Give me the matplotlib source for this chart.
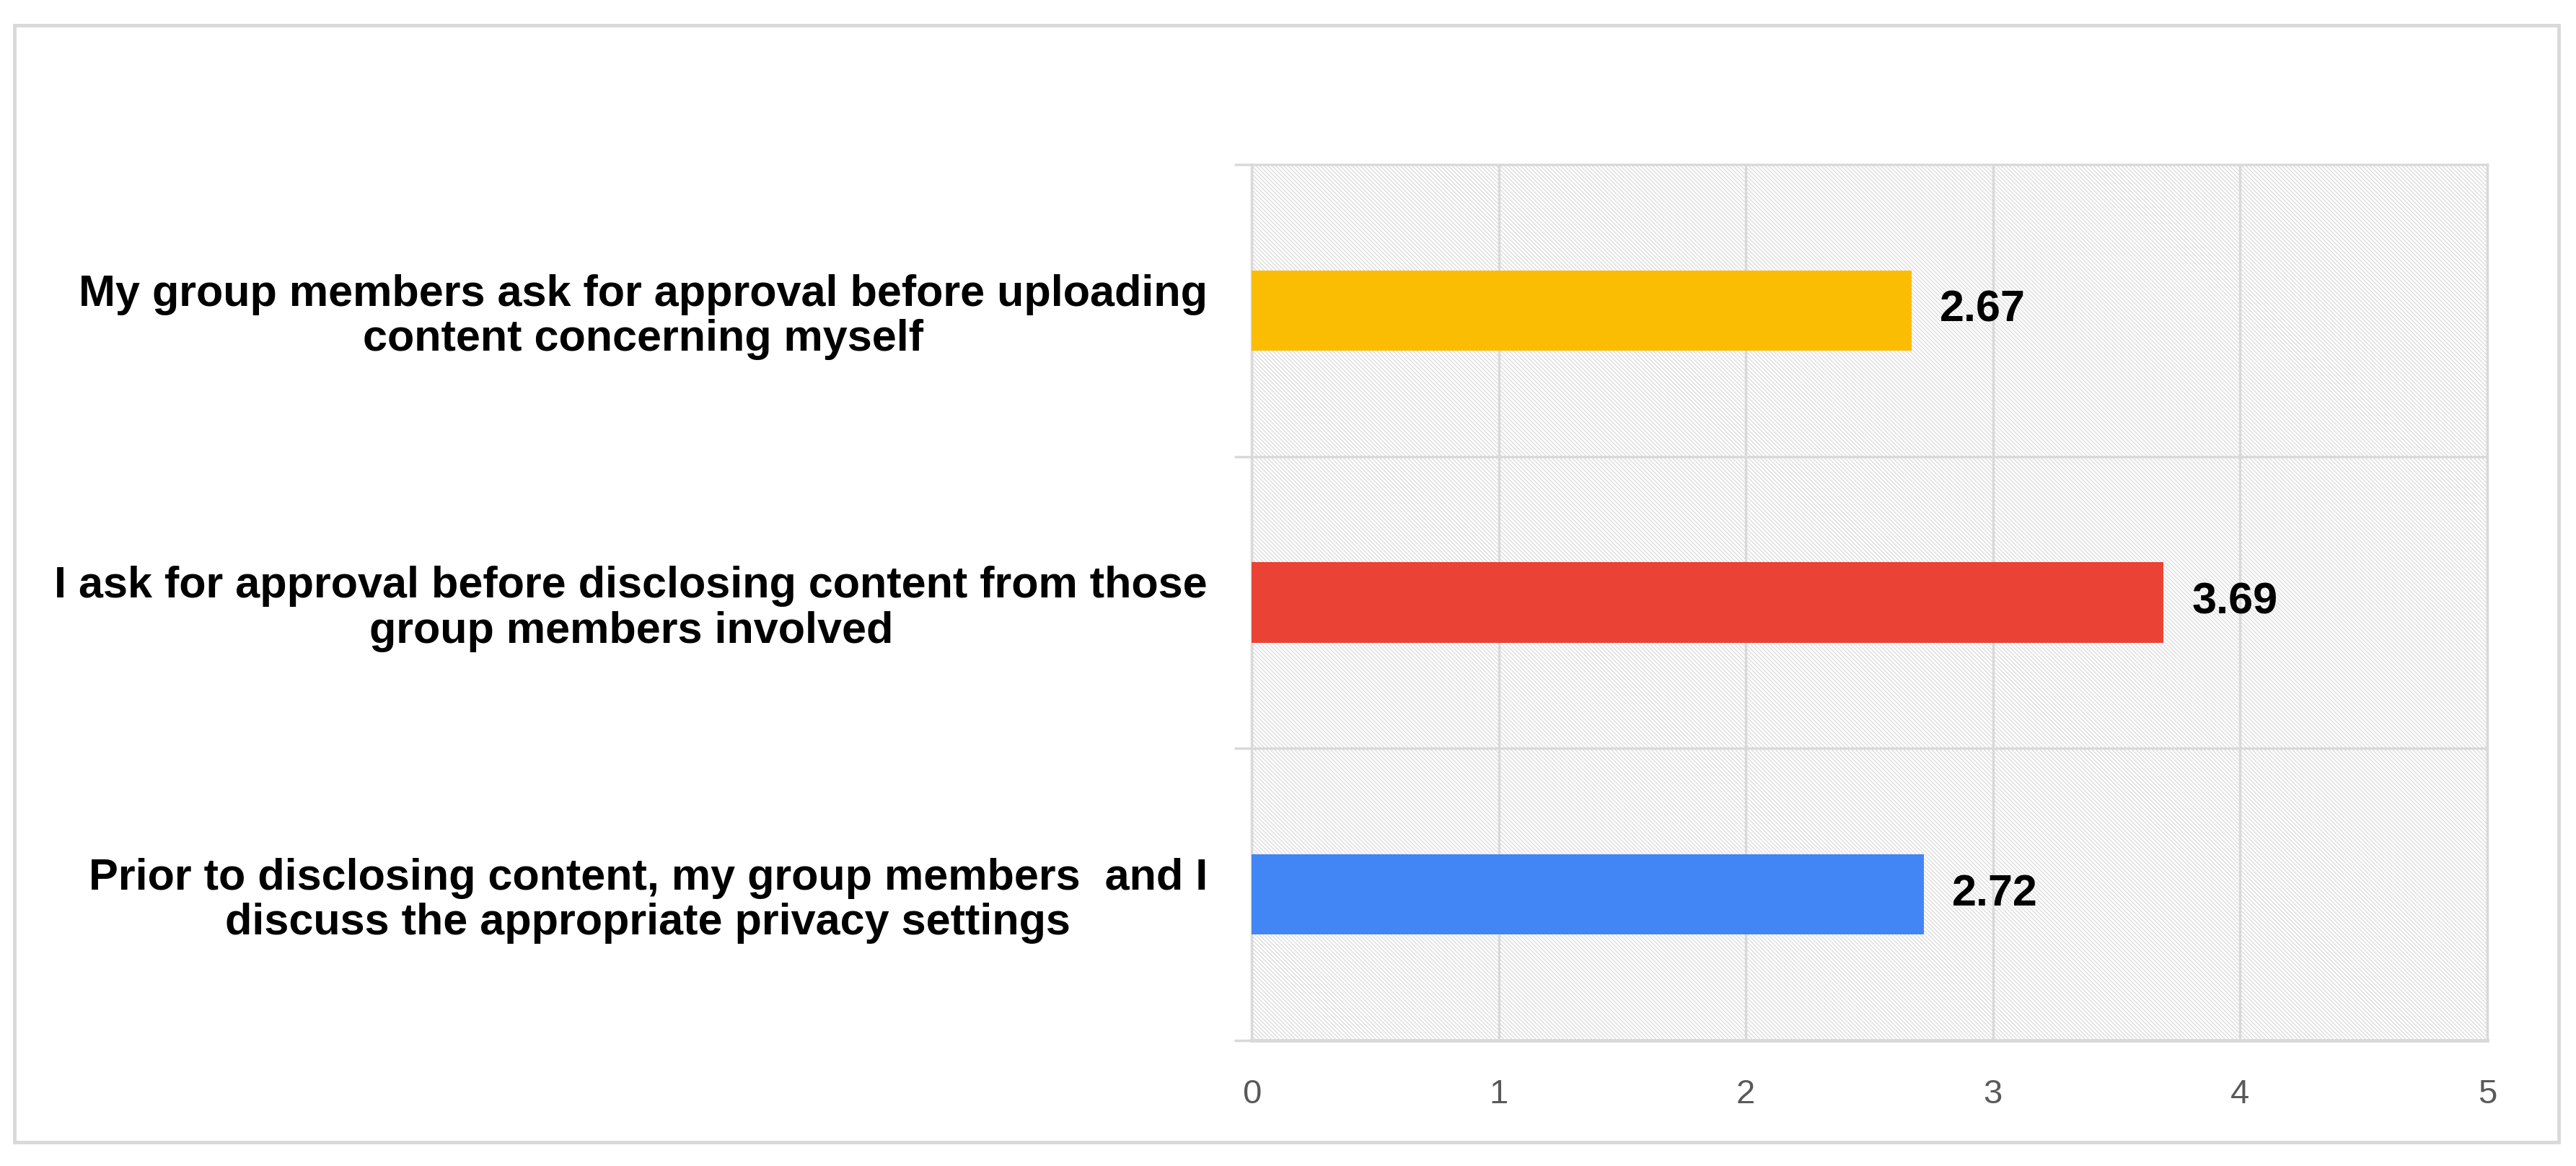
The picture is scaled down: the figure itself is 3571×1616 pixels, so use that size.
import numpy as np
import matplotlib
matplotlib.use('Agg')
import matplotlib.pyplot as plt
from matplotlib.patches import Rectangle

# data, top to bottom as in the chart
statements = ["My group members ask for approval before uploading\ncontent concerning myself",
              "I ask for approval before disclosing content from those\ngroup members involved",
              "Prior to disclosing content, my group members  and I\ndiscuss the appropriate privacy settings"]
scores = [2.67, 3.69, 2.72]
bar_colors = ['#FBBC04', '#EA4335', '#4285F4']
xticks = [0, 1, 2, 3, 4, 5]

plt.rcParams['font.family'] = ['Liberation Sans', 'DejaVu Sans']
plt.rcParams['hatch.linewidth'] = 0.8
plt.rcParams['hatch.color'] = '#d6d6d6'

grid_col = '#d9d9d9'
fig = plt.figure(figsize=(35.71, 16.16), dpi=100)
ax = fig.add_axes([0.4859, 0.1077, 0.9655 - 0.4859, 0.8589 - 0.1077])

ax.patch.set_facecolor('white')
ax.patch.set_hatch('\\' * 6)
ax.patch.set_edgecolor('#d6d6d6')

ypos = np.arange(len(scores))[::-1]
ax.barh(ypos, scores, height=0.275, color=bar_colors, zorder=3)
for y, v in zip(ypos, scores):
    ax.text(v + 0.115, y, f'{v:.2f}', va='center', ha='left', fontsize=44,
            fontweight='bold', color='black', zorder=4)

ax.set_xlim(0, 5)
ax.set_ylim(-0.5, 2.5)
ax.set_xticks(xticks)
ax.set_xticklabels([str(t) for t in xticks], fontsize=34, color='#595959')
ax.tick_params(axis='x', length=0, pad=38)

ax.set_yticks(ypos)
ax.set_yticklabels(statements, fontsize=44, fontweight='bold',
                   multialignment='center', linespacing=1.12)
ax.set_yticks([-0.5, 0.5, 1.5, 2.5], minor=True)
ax.tick_params(axis='y', which='major', length=0, pad=44)
ax.tick_params(axis='y', which='minor', length=17, width=2.5, color=grid_col)

ax.xaxis.grid(True, color=grid_col, linewidth=2.5, zorder=1)
for yb in [0.5, 1.5]:
    ax.axhline(yb, color=grid_col, linewidth=2.5, zorder=1)
for s in ax.spines.values():
    s.set_color(grid_col)
    s.set_linewidth(2.5)
ax.spines['bottom'].set_linewidth(3.5)
ax.set_axisbelow(True)

# outer frame
fig.patches.append(Rectangle((20 / 3571, 1 - 1583 / 1616), (3547 - 20) / 3571, (1583 - 35) / 1616,
                             transform=fig.transFigure, fill=False, edgecolor=grid_col,
                             linewidth=3.5))

fig.savefig('out.png', dpi=100, facecolor='white')
